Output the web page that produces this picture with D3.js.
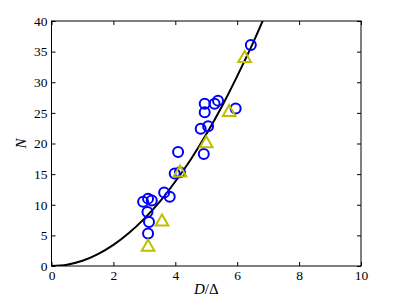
<!DOCTYPE html>
<html>
<head>
<meta charset="utf-8">
<script src="https://d3js.org/d3.v7.min.js"></script>
<style>
  body { margin: 0; background: #fff; }
  text { font-family: 'Liberation Serif', serif; }
</style>
</head>
<body>
<div id="chart"></div>
<script>
// circles (blue)
const circleD = [2.96, 3.12, 3.24, 3.10, 3.15, 3.12, 3.64, 3.82, 4.09, 3.98, 4.15, 4.92, 4.82, 5.06, 4.95, 4.95, 5.27, 5.38, 5.95, 6.44];
const circleN = [10.5, 11.0, 10.7, 8.8, 7.2, 5.3, 12.0, 11.3, 18.6, 15.1, 15.3, 18.3, 22.4, 22.8, 26.5, 25.1, 26.5, 27.0, 25.7, 36.1];
// triangles (yellow)
const triD = [3.12, 3.57, 4.15, 5.00, 5.74, 6.24];
const triN = [3.1, 7.2, 15.2, 20.0, 25.1, 33.9];
// fitted curve
const curveD = [0, 0.5, 1, 1.5, 2, 2.5, 3, 3.5, 4, 4.5, 5, 5.5, 6, 6.5, 7];
const curveN = [0, 0.22, 0.86, 1.94, 3.44, 5.38, 7.74, 10.5, 13.8, 17.4, 21.5, 26.0, 31.0, 36.3, 42.1];
const xTicks = [0, 2, 4, 6, 8, 10];
const yTicks = [0, 5, 10, 15, 20, 25, 30, 35, 40];

const w = 399, h = 300;
const pLeft = 51.5, pRight = 361, pTop = 21, pBottom = 266;

const x = d3.scaleLinear().domain([0, 10]).range([pLeft, pRight]);
const y = d3.scaleLinear().domain([0, 40]).range([pBottom, pTop]);

const svg = d3.select('#chart').append('svg')
    .attr('width', w).attr('height', h);

svg.append('clipPath').attr('id', 'clip')
   .append('rect')
   .attr('x', pLeft).attr('y', pTop)
   .attr('width', pRight - pLeft).attr('height', pBottom - pTop);

const plot = svg.append('g').attr('clip-path', 'url(#clip)');

plot.append('path')
    .datum(curveD.map((d, i) => [d, curveN[i]]))
    .attr('fill', 'none')
    .attr('stroke', '#000')
    .attr('stroke-width', 2)
    .attr('d', d3.line().x(d => x(d[0])).y(d => y(d[1])).curve(d3.curveMonotoneX));

plot.selectAll('circle.pt')
    .data(circleD.map((d, i) => [d, circleN[i]]))
    .enter().append('circle')
    .attr('class', 'pt')
    .attr('cx', d => x(d[0]))
    .attr('cy', d => y(d[1]))
    .attr('r', 5)
    .attr('fill', 'none')
    .attr('stroke', '#0000ff')
    .attr('stroke-width', 2);

const tri = d3.symbol().type(d3.symbolTriangle).size(70);
plot.selectAll('path.tri')
    .data(triD.map((d, i) => [d, triN[i]]))
    .enter().append('path')
    .attr('class', 'tri')
    .attr('transform', d => 'translate(' + x(d[0]) + ',' + y(d[1]) + ')')
    .attr('d', tri)
    .attr('fill', 'none')
    .attr('stroke', '#bfbf00')
    .attr('stroke-width', 2);

// axes, ticks pointing inward
const styleAxis = g => {
    g.select('.domain').remove();
    g.selectAll('line').attr('stroke', '#000');
    g.selectAll('text').attr('font-size', 13.5).attr('fill', '#000')
     .attr('font-family', "'Liberation Serif', serif");
};

svg.append('g').attr('transform', 'translate(0,' + pBottom + ')')
   .call(d3.axisBottom(x).tickValues(xTicks).tickSizeInner(-4).tickSizeOuter(0).tickPadding(4))
   .call(styleAxis);
svg.append('g').attr('transform', 'translate(0,' + pTop + ')')
   .call(d3.axisTop(x).tickValues(xTicks).tickSizeInner(-4).tickSizeOuter(0).tickFormat(''))
   .call(styleAxis);
svg.append('g').attr('transform', 'translate(' + pLeft + ',0)')
   .call(d3.axisLeft(y).tickValues(yTicks).tickSizeInner(-4).tickSizeOuter(0).tickPadding(4))
   .call(styleAxis);
svg.append('g').attr('transform', 'translate(' + pRight + ',0)')
   .call(d3.axisRight(y).tickValues(yTicks).tickSizeInner(-4).tickSizeOuter(0).tickFormat(''))
   .call(styleAxis);

svg.append('rect')
   .attr('x', pLeft).attr('y', pTop)
   .attr('width', pRight - pLeft).attr('height', pBottom - pTop)
   .attr('fill', 'none').attr('stroke', '#000').attr('stroke-width', 1);

const xl = svg.append('text')
   .attr('x', (pLeft + pRight) / 2).attr('y', 294)
   .attr('text-anchor', 'middle').attr('font-size', 15);
xl.append('tspan').attr('font-style', 'italic').text('D');
xl.append('tspan').text('/Δ');

svg.append('text')
   .attr('transform', 'translate(26,' + ((pTop + pBottom) / 2) + ') rotate(-90)')
   .attr('text-anchor', 'middle')
   .attr('font-size', 15).attr('font-style', 'italic')
   .text('N');
</script>
</body>
</html>
